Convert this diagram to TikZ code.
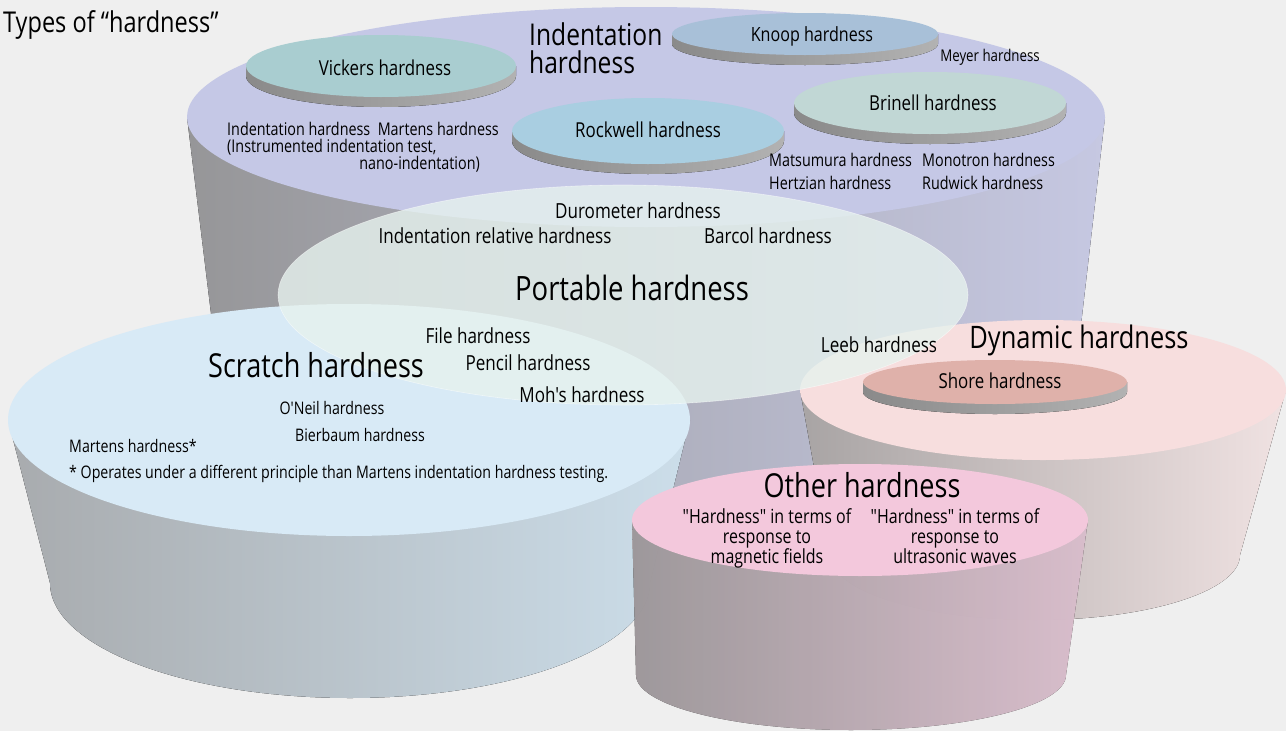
\documentclass[tikz,border=0pt]{standalone}
\usepackage{fontspec}
\newfontfamily\hfont{Open Sans}[FakeStretch=0.82]
\definecolor{bg}{RGB}{239,239,239}
\definecolor{indTop}{RGB}{197,200,230}
\definecolor{indL}{RGB}{150,150,152}
\definecolor{indM}{RGB}{176,177,184}
\definecolor{indR}{RGB}{198,200,226}
\definecolor{scrTop}{RGB}{216,234,246}
\definecolor{scrL}{RGB}{168,171,174}
\definecolor{scrM}{RGB}{186,195,201}
\definecolor{scrR}{RGB}{204,222,234}
\definecolor{dynTop}{RGB}{247,222,222}
\definecolor{dynL}{RGB}{168,164,164}
\definecolor{dynM}{RGB}{202,194,194}
\definecolor{dynR}{RGB}{240,226,226}
\definecolor{othTop}{RGB}{243,200,220}
\definecolor{othL}{RGB}{176,170,173}
\definecolor{othM}{RGB}{204,188,196}
\definecolor{othR}{RGB}{243,212,228}
\definecolor{porTop}{RGB}{230,242,238}
\definecolor{vicTop}{RGB}{169,205,208}
\definecolor{knoTop}{RGB}{168,192,216}
\definecolor{rocTop}{RGB}{169,206,225}
\definecolor{briTop}{RGB}{193,215,213}
\definecolor{shoTop}{RGB}{223,177,170}
\definecolor{dsL}{RGB}{138,138,138}
\definecolor{dsR}{RGB}{178,178,178}
\newcommand\cylside[8]{\fill[#8] ({#1-#3},#2) -- ({#4-#6},#5) arc[start angle=180,end angle=360,x radius=#6pt,y radius=#7pt] -- ({#1+#3},#2) -- cycle;}
\newcommand\discshape[5]{\fill[discside] ({#1-#3},#2) -- ({#1-#3},{#2+10}) arc[start angle=180,end angle=360,x radius=#3pt,y radius=#4pt] -- ({#1+#3},#2) -- cycle;
\fill[#5] (#1,#2) ellipse[x radius=#3pt,y radius=#4pt];}
\tikzset{
  discside/.style={left color=dsL,right color=dsR},
  txt/.style={inner sep=0pt,anchor=base,text=black},
  ttl/.style={txt,font=\hfont\fontsize{28.7}{30}\selectfont},
  discl/.style={txt,font=\hfont\fontsize{20.6}{22}\selectfont},
  lab/.style={txt,font=\hfont\fontsize{17.5}{20}\selectfont},
  plab/.style={txt,font=\hfont\fontsize{20.8}{22}\selectfont},
  slab/.style={txt,font=\hfont\fontsize{17.3}{20}\selectfont},
  olab/.style={txt,font=\hfont\fontsize{19.5}{22}\selectfont},
}
\begin{document}
\begin{tikzpicture}[x=1pt,y=-1pt]
\fill[bg] (0,0) rectangle (1286,731);
\useasboundingbox (0,0) rectangle (1286,731);
% indentation cylinder
\cylside{646}{117}{459}{647}{420}{423}{100}{left color=indL,middle color=indM,right color=indR}
\fill[indTop] (646,117) ellipse[x radius=459pt,y radius=110pt];
\discshape{381}{66}{135}{31}{vicTop}
\discshape{805}{34}{133}{21}{knoTop}
\discshape{648}{131}{136}{33}{rocTop}
\discshape{930}{103}{136}{31}{briTop}
% scratch cylinder
\cylside{349}{420}{341}{350}{583}{300}{115}{left color=scrL,middle color=scrM,right color=scrR}
\fill[scrTop] (349,420) ellipse[x radius=341pt,y radius=116pt];
% dynamic cylinder
\cylside{1043}{390}{243}{1035}{555}{205}{65}{left color=dynL,middle color=dynM,right color=dynR}
\fill[dynTop] (1043,390) ellipse[x radius=243pt,y radius=70pt];
\discshape{995}{382}{132}{22}{shoTop}
% other cylinder
\cylside{860}{520}{228}{851}{675}{215}{55}{left color=othL,middle color=othM,right color=othR,opacity=0.88}
\fill[othTop] (860,520) ellipse[x radius=228pt,y radius=56pt];
% portable
\fill[porTop,opacity=0.8] (623,295) ellipse[x radius=345pt,y radius=110pt];
\draw[white,opacity=0.5,line width=0.6pt] (623,295) ellipse[x radius=345pt,y radius=110pt];
% texts
\node[ttl,anchor=base west] (t0) at (3,32) {Types of “hardness”};
\node[txt,anchor=base west,font=\hfont\fontsize{30}{30}\selectfont] (i1) at (529,45) {Indentation};
\node[txt,anchor=base west,font=\hfont\fontsize{30}{30}\selectfont] (i2) at (529,73) {hardness};
\node[discl] (vk) at (385,75) {Vickers hardness};
\node[discl,font=\hfont\fontsize{19.6}{22}\selectfont] (kn) at (812,41) {Knoop hardness};
\node[discl] (rw) at (648,137) {Rockwell hardness};
\node[discl] (br) at (933,110) {Brinell hardness};
\node[txt,font=\hfont\fontsize{16.2}{18}\selectfont] (my) at (990,61) {Meyer hardness};
\node[lab,anchor=base west] (ih1) at (227,135) {Indentation hardness\ \ Martens hardness};
\node[lab,anchor=base west] (ih2) at (227,152) {(Instrumented indentation test,};
\node[lab,anchor=base east] (ih3) at (480,169) {nano-indentation)};
\node[lab,anchor=base west] (ma) at (769,166) {Matsumura hardness};
\node[lab,anchor=base west] (mo) at (922,166) {Monotron hardness};
\node[lab,anchor=base west] (he) at (769,189) {Hertzian hardness};
\node[lab,anchor=base west] (ru) at (922,189) {Rudwick hardness};
\node[plab] (du) at (638,218) {Durometer hardness};
\node[plab] (ir) at (495,243) {Indentation relative hardness};
\node[plab] (ba) at (768,243) {Barcol hardness};
\node[txt,font=\hfont\fontsize{33.5}{34}\selectfont] (po) at (632,300) {Portable hardness};
\node[plab] (fi) at (478,343) {File hardness};
\node[plab] (pe) at (528,370) {Pencil hardness};
\node[plab] (mh) at (582,402) {Moh's hardness};
\node[txt,font=\hfont\fontsize{33}{34}\selectfont] (sc) at (316,377) {Scratch hardness};
\node[plab] (le) at (879,352) {Leeb hardness};
\node[txt,font=\hfont\fontsize{31}{32}\selectfont] (dy) at (1079,348) {Dynamic hardness};
\node[discl] (sh) at (1000,388) {Shore hardness};
\node[slab] (on) at (332,414) {O'Neil hardness};
\node[slab] (bi) at (360,441) {Bierbaum hardness};
\node[slab,anchor=base west] (mt) at (69,452) {Martens hardness*};
\node[slab,anchor=base west] (op) at (69,478) {* Operates under a different principle than Martens indentation hardness testing.};
\node[txt,font=\hfont\fontsize{33}{34}\selectfont] (ot) at (862,497) {Other hardness};
\node[olab] (o1a) at (767,523) {"Hardness" in terms of};
\node[olab] (o1b) at (767,543) {response to};
\node[olab] (o1c) at (767,563) {magnetic fields};
\node[olab] (o2a) at (955,523) {"Hardness" in terms of};
\node[olab] (o2b) at (955,543) {response to};
\node[olab] (o2c) at (955,563) {ultrasonic waves};
\end{tikzpicture}
\end{document}
